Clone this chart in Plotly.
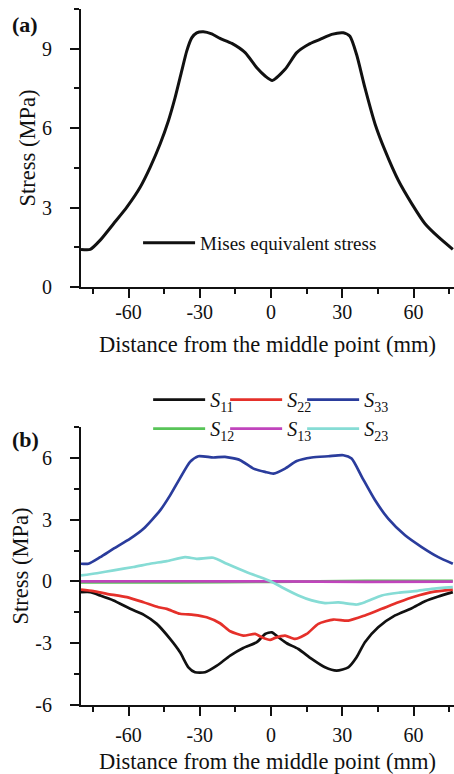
import plotly.graph_objects as go

# ---- Panel (a): Mises equivalent stress ----
mises_x = [-80.0, -76.1, -71.9, -66.3, -60.7, -55.1, -50.9, -46.7, -43.2, -40.4, -37.6, -35.5, -33.4, -31.3,
           -28.5, -25.0, -21.5, -16.5, -10.9, -6.0, -2.5, 0.5, 5.9, 10.8, 15.7, 20.6, 25.5, 30.4, 33.2, 36.0,
           39.5, 43.8, 48.0, 53.6, 59.2, 64.8, 70.4, 76.5]
mises_y = [1.42, 1.42, 1.77, 2.39, 3.02, 3.77, 4.52, 5.40, 6.28, 7.15, 8.16, 8.91, 9.41, 9.60,
           9.64, 9.56, 9.39, 9.20, 8.85, 8.28, 7.97, 7.80, 8.22, 8.85, 9.16, 9.35, 9.54, 9.60, 9.47, 8.78,
           7.53, 6.15, 5.15, 4.02, 3.15, 2.39, 1.89, 1.42]

# ---- Panel (b): stress components ----
s33_x = [-80.0, -76.9, -71.9, -66.3, -59.3, -53.7, -46.7, -42.5, -38.3, -34.1, -30.6, -24.3, -19.4, -13.0,
         -7.4, -2.5, 1.0, 5.9, 10.8, 17.1, 24.1, 30.4, 33.9, 38.2, 43.8, 49.3, 56.4, 63.4, 70.4, 76.5]
s33_y = [0.86, 0.86, 1.18, 1.59, 2.08, 2.56, 3.45, 4.18, 5.02, 5.81, 6.08, 6.02, 6.05, 5.89,
         5.48, 5.32, 5.24, 5.48, 5.85, 6.02, 6.08, 6.13, 5.97, 5.08, 3.94, 3.05, 2.24, 1.67, 1.18, 0.86]

s23_x = [-80.0, -73.3, -66.3, -57.9, -50.9, -43.9, -36.2, -31.3, -24.3, -18.6, -10.2, -3.9, 0.0, 4.5,
         11.5, 17.1, 22.7, 28.3, 36.0, 39.5, 46.6, 53.6, 60.6, 67.6, 76.5]
s23_y = [0.29, 0.40, 0.54, 0.70, 0.86, 0.99, 1.18, 1.10, 1.15, 0.86, 0.45, 0.18, 0.0, -0.28,
         -0.68, -0.92, -1.05, -1.02, -1.12, -1.01, -0.68, -0.55, -0.47, -0.36, -0.28]

s11_x = [-80.0, -76.1, -71.9, -66.3, -59.3, -53.7, -48.1, -42.5, -38.3, -34.8, -32.0, -27.8, -22.8, -17.2,
         -11.7, -6.0, -2.5, 0.3, 3.1, 6.6, 11.5, 17.1, 22.7, 27.6, 32.5, 36.0, 39.5, 45.1, 52.2, 59.2,
         64.8, 70.4, 76.5]
s11_y = [-0.52, -0.52, -0.68, -0.92, -1.33, -1.61, -2.06, -2.79, -3.44, -4.17, -4.41, -4.41, -4.09, -3.60,
         -3.23, -2.95, -2.55, -2.47, -2.71, -3.00, -3.28, -3.76, -4.17, -4.33, -4.17, -3.68, -2.95, -2.22, -1.65, -1.30,
         -0.96, -0.73, -0.52]

s22_x = [-80.0, -74.8, -69.1, -60.7, -53.7, -47.4, -43.9, -38.3, -32.7, -27.1, -21.5, -17.2, -11.7, -6.7,
         -3.9, -0.4, 1.7, 5.9, 10.1, 15.0, 19.9, 26.2, 32.5, 39.5, 46.6, 53.6, 60.6, 67.6, 76.5]
s22_y = [-0.40, -0.47, -0.60, -0.76, -1.01, -1.25, -1.33, -1.57, -1.62, -1.74, -2.03, -2.42, -2.63, -2.55,
         -2.71, -2.84, -2.74, -2.63, -2.79, -2.55, -2.06, -1.85, -1.90, -1.65, -1.33, -1.01, -0.73, -0.52, -0.40]

s12_x = [-80.0, -40.0, 0.0, 40.0, 76.5]
s12_y = [-0.04, -0.05, -0.02, 0.03, 0.03]

s13_x = [-80.0, -40.0, 0.0, 40.0, 76.5]
s13_y = [0.0, 0.01, 0.0, -0.02, -0.01]

x_ticks = [-60, -30, 0, 30, 60]
ya_ticks = [0, 3, 6, 9]
yb_ticks = [-6, -3, 0, 3, 6]

FONT = "Liberation Serif"
BLACK = "#111111"
RED = "#e5302a"
BLUE = "#2a3c9c"
GREEN = "#58c458"
MAGENTA = "#c044bc"
CYAN = "#86dcd5"

fig = go.Figure()

fig.add_trace(go.Scatter(x=mises_x, y=mises_y, mode="lines", name="Mises equivalent stress",
                         line=dict(color=BLACK, width=3, shape="spline", smoothing=0.6),
                         xaxis="x", yaxis="y", legend="legend"))

series_b = [
    ("<i>S</i><sub>11</sub>", s11_x, s11_y, BLACK, "legend2"),
    ("<i>S</i><sub>22</sub>", s22_x, s22_y, RED, "legend2"),
    ("<i>S</i><sub>33</sub>", s33_x, s33_y, BLUE, "legend2"),
    ("<i>S</i><sub>12</sub>", s12_x, s12_y, GREEN, "legend3"),
    ("<i>S</i><sub>13</sub>", s13_x, s13_y, MAGENTA, "legend3"),
    ("<i>S</i><sub>23</sub>", s23_x, s23_y, CYAN, "legend3"),
]
for name, xs, ys, col, lg in series_b:
    fig.add_trace(go.Scatter(x=xs, y=ys, mode="lines", name=name,
                             line=dict(color=col, width=2.7, shape="spline", smoothing=0.6),
                             xaxis="x2", yaxis="y2", legend=lg))

# empty spacer entries so the last visible legend entry of each row is not clipped
for lg in ("legend2", "legend3"):
    fig.add_trace(go.Scatter(x=[None], y=[None], mode="lines", name=" ",
                             line=dict(color="rgba(0,0,0,0)", width=0),
                             xaxis="x2", yaxis="y2", legend=lg, hoverinfo="skip"))

axis_common = dict(
    showline=True, linecolor=BLACK, linewidth=2, mirror=False,
    ticks="outside", ticklen=9, tickwidth=2, tickcolor=BLACK,
    showgrid=False, zeroline=False,
    tickfont=dict(family=FONT, size=20, color=BLACK),
)

def xaxis_cfg(label_off, title_off):
    return dict(axis_common, range=[-80, 77], tickvals=x_ticks, ticktext=[str(v) for v in x_ticks],
                minor=dict(dtick=15, tick0=-75, ticks="outside", ticklen=5, tickwidth=2, tickcolor=BLACK),
                title=dict(text="Distance from the middle point (mm)",
                           font=dict(family=FONT, size=22.5, color=BLACK), standoff=title_off),
                ticklabelstandoff=label_off)

def yaxis_cfg(rng, ticks_):
    return dict(axis_common, range=rng, tickvals=ticks_, ticktext=[str(v) for v in ticks_],
                minor=dict(dtick=1.5, tick0=0, ticks="outside", ticklen=5, tickwidth=2, tickcolor=BLACK),
                title=dict(text="Stress (MPa)", font=dict(family=FONT, size=22.5, color=BLACK), standoff=0),
                ticklabelstandoff=14)

legend_row = dict(xanchor="left", yanchor="middle", xref="paper", yref="paper",
                  orientation="h", entrywidth=10, entrywidthmode="pixels",
                  bgcolor="rgba(0,0,0,0)", font=dict(family=FONT, size=20, color=BLACK),
                  itemwidth=52)

fig.update_layout(
    width=454, height=774,
    margin=dict(l=81, r=0, t=9, b=69, autoexpand=False),
    paper_bgcolor="white", plot_bgcolor="white",
    font=dict(family=FONT, color=BLACK),
    xaxis=dict(xaxis_cfg(-3, 14), anchor="y", domain=[0, 1]),
    yaxis=dict(yaxis_cfg([0, 10.5], ya_ticks), anchor="x", domain=[0.6006, 1.0]),
    xaxis2=dict(xaxis_cfg(2, 17), anchor="y2", domain=[0, 1]),
    yaxis2=dict(yaxis_cfg([-6, 7.5], yb_ticks), anchor="x2", domain=[0, 0.3994]),
    legend=dict(x=0.153, y=0.664, xanchor="left", yanchor="middle", xref="paper", yref="paper",
                bgcolor="rgba(0,0,0,0)", font=dict(family=FONT, size=19, color=BLACK),
                itemwidth=52),
    legend2=dict(legend_row, x=0.18, y=0.4388),
    legend3=dict(legend_row, x=0.18, y=0.3971),
    showlegend=True,
)

fig.add_annotation(text="<b>(a)</b>", xref="paper", yref="paper", x=-0.15, y=0.978,
                   showarrow=False, xanchor="center", yanchor="middle",
                   font=dict(family=FONT, size=22, color=BLACK))
fig.add_annotation(text="<b>(b)</b>", xref="paper", yref="paper", x=-0.15, y=0.382,
                   showarrow=False, xanchor="center", yanchor="middle",
                   font=dict(family=FONT, size=22, color=BLACK))

fig.write_html("out.html")
